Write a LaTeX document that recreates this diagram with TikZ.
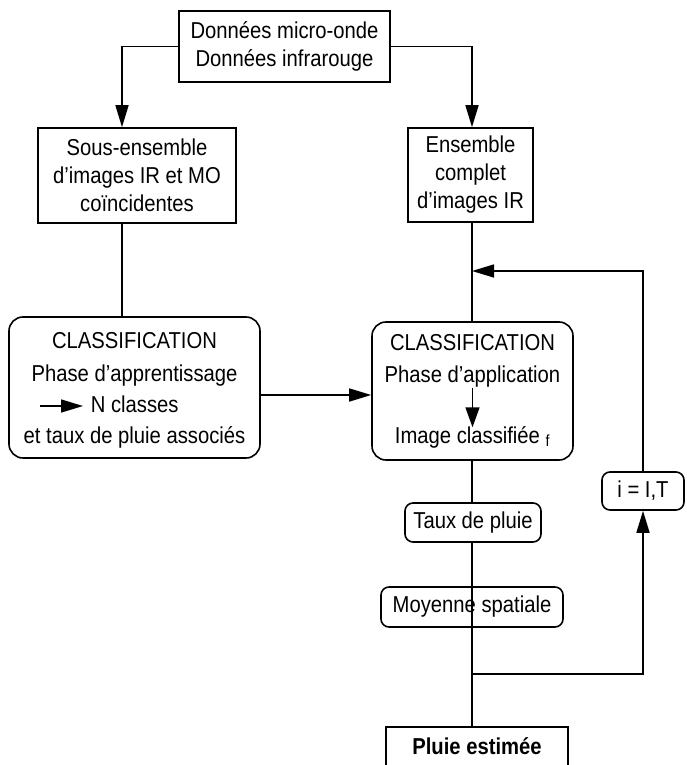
\documentclass[tikz,border=0pt]{standalone}
\usepackage{fontspec}
\setmainfont{Liberation Sans}[FakeStretch=0.88]
\usetikzlibrary{arrows.meta}
\begin{document}
\begin{tikzpicture}[x=1pt,y=-1pt,line width=1.6pt,>={Triangle[length=22pt,width=13pt]},
  font=\fontsize{23}{28}\selectfont,
  sqbox/.style={draw,inner sep=0pt,align=center},
  rdbox/.style={draw,rounded corners=14pt,inner sep=0pt,align=center},
  smbox/.style={draw,rounded corners=8pt,inner sep=0pt,align=center},
  txt/.style={anchor=base,inner sep=0pt}]
\useasboundingbox[fill=white] (0,0) rectangle (686,765);
\coordinate (lx) at (122,0); \coordinate (rx) at (472,0);
\coordinate (my) at (0,395); \coordinate (fb) at (472,271);
\coordinate (br) at (472,674);
% boxes
\node[sqbox,minimum width=211pt,minimum height=71pt] (donnees) at (284.5,46.5) {Données micro-onde\\Données infrarouge};
\node[sqbox,minimum width=198pt,minimum height=95pt] (sousens) at (137,175.5) {Sous-ensemble\\d'images IR et MO\\coïncidentes};
\node[sqbox,minimum width=125pt,minimum height=94pt] (ensemble) at (470.5,175) {Ensemble\\complet\\d'images IR};
\node[rdbox,minimum width=251pt,minimum height=141pt] (classA) at (134.5,387.5) {};
\node[txt] (clsA) at (134.5,348) {CLASSIFICATION};
\node[txt] (appr) at (134.5,381) {Phase d'apprentissage};
\node[txt,anchor=base west] (ncl) at (90,412) {N classes};
\node[txt] (taux) at (134.5,443) {et taux de pluie associés};
\node[rdbox,minimum width=201pt,minimum height=138pt] (classB) at (472.5,391) {};
\node[txt] (clsB) at (472.5,350) {CLASSIFICATION};
\node[txt] (appl) at (472.5,382) {Phase d'application};
\node[txt] (imgc) at (472.5,443) {Image classifiée \textsubscript{f}};
\node[smbox,minimum width=136pt,minimum height=39pt] (tauxp) at (473,522.5) {Taux de pluie};
\node[smbox,minimum width=182pt,minimum height=40pt] (moyenne) at (472,607) {Moyenne spatiale};
\node[smbox,minimum width=82pt,minimum height=38pt] (ibox) at (643,491) {i = I,T};
\node[inner sep=0pt,minimum width=180pt,minimum height=36pt,anchor=north,font=\fontsize{23}{28}\selectfont\bfseries] (pluie) at (477,727) {Pluie estimée};
\draw (pluie.south west) ++(0,40) |- (pluie.north east) -- ++(0,80);
% connectors
\draw[->] (donnees.west) -| (lx |- sousens.north);
\draw[->] (donnees.east) -| (rx |- ensemble.north);
\draw (lx |- sousens.south) -- (lx |- classA.north);
\draw (rx |- ensemble.south) -- (rx |- classB.north);
\draw[->] (ibox.north) |- (fb);
\draw[->] (classA.east |- my) -- (classB.west |- my);
\draw[->] (40,406) -- ([xshift=-7pt]ncl.west |- 0,406);
\draw[->,>={Triangle[length=20pt,width=14pt]}] (appl.south) -- ([yshift=-2pt]imgc.north);
\draw (rx |- classB.south) -- (rx |- tauxp.north);
\draw (rx |- tauxp.south) -- (rx |- moyenne.south);
\draw (rx |- moyenne.south) -- (rx |- pluie.north);
\draw[->] (br) -| (ibox.south);
\end{tikzpicture}
\end{document}
